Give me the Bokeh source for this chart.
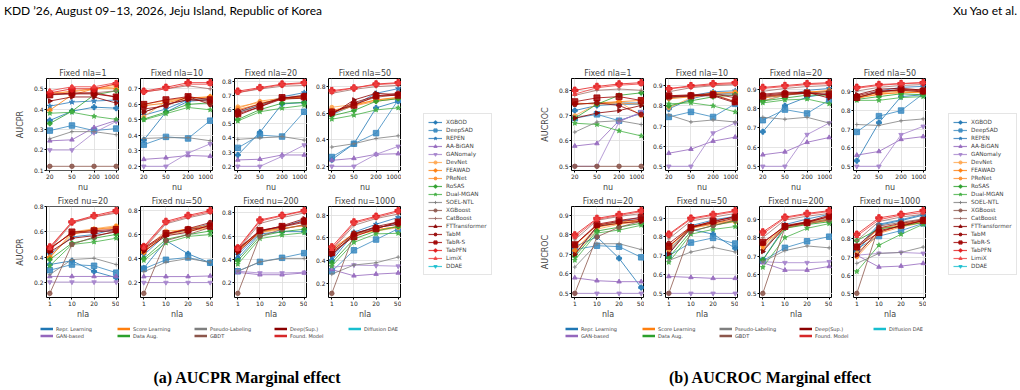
import numpy as np
from bokeh.plotting import figure
from bokeh.layouts import row, column
from bokeh.models import (Div, Legend, LegendItem, FixedTicker, Range1d,
                          PrintfTickFormatter)
from bokeh.embed import file_html
from bokeh.resources import INLINE

# ---------------- data ----------------
METHODS = ["XGBOD", "DeepSAD", "REPEN", "AA-BiGAN", "GANomaly", "DevNet", "FEAWAD",
           "PReNet", "RoSAS", "Dual-MGAN", "SOEL-NTL", "XGBoost", "CatBoost",
           "FTTransformer", "TabM", "TabR-S", "TabPFN", "LimiX", "DDAE"]
NU_LABELS = ["20", "50", "200", "1000"]
NLA_LABELS = ["1", "10", "20", "50"]
NLA_FIXED = ["1", "10", "20", "50"]
NU_FIXED = ["20", "50", "200", "1000"]

# rows follow METHODS order (DDAE has no plotted values)
PR_NLA1 = [[0.345, 0.39, 0.41, 0.405], [0.295, 0.32, 0.295, 0.305], [0.415, 0.435, 0.44, 0.445],
           [0.245, 0.25, 0.31, 0.345], [0.20, 0.20, 0.285, 0.34], [0.47, 0.49, 0.50, 0.52],
           [0.395, 0.47, 0.50, 0.50], [0.48, 0.485, 0.50, 0.51], [0.33, 0.39, 0.47, 0.49],
           [0.38, 0.385, 0.365, 0.35], [0.255, 0.29, 0.29, 0.275], [0.12, 0.12, 0.12, 0.12],
           [0.47, 0.475, 0.48, 0.49], [0.44, 0.46, 0.46, 0.43], [0.475, 0.475, 0.475, 0.46],
           [0.47, 0.48, 0.48, 0.46], [0.48, 0.50, 0.50, 0.525], [0.49, 0.51, 0.51, 0.53]]
PR_NLA10 = [[0.37, 0.55, 0.62, 0.63], [0.34, 0.39, 0.38, 0.495], [0.53, 0.57, 0.63, 0.64],
            [0.245, 0.255, 0.27, 0.265], [0.20, 0.20, 0.285, 0.345], [0.52, 0.62, 0.64, 0.645],
            [0.59, 0.61, 0.64, 0.65], [0.60, 0.625, 0.645, 0.64], [0.505, 0.55, 0.60, 0.61],
            [0.50, 0.54, 0.58, 0.565], [0.38, 0.385, 0.385, 0.365], [0.55, 0.60, 0.63, 0.63],
            [0.68, 0.70, 0.72, 0.70], [0.55, 0.60, 0.63, 0.62], [0.57, 0.59, 0.65, 0.60],
            [0.60, 0.63, 0.65, 0.63], [0.685, 0.71, 0.74, 0.74], [0.68, 0.70, 0.73, 0.73]]
PR_NLA20 = [[0.28, 0.44, 0.64, 0.65], [0.33, 0.42, 0.41, 0.585], [0.58, 0.63, 0.69, 0.72],
            [0.245, 0.25, 0.28, 0.28], [0.20, 0.20, 0.27, 0.35], [0.62, 0.65, 0.67, 0.69],
            [0.60, 0.64, 0.68, 0.69], [0.61, 0.66, 0.68, 0.685], [0.53, 0.60, 0.645, 0.65],
            [0.52, 0.585, 0.61, 0.63], [0.39, 0.40, 0.41, 0.385], [0.58, 0.63, 0.68, 0.70],
            [0.72, 0.745, 0.765, 0.77], [0.56, 0.62, 0.675, 0.68], [0.59, 0.64, 0.68, 0.70],
            [0.57, 0.62, 0.685, 0.69], [0.73, 0.755, 0.78, 0.79], [0.72, 0.75, 0.775, 0.785]]
PR_NLA50 = [[0.25, 0.37, 0.64, 0.69], [0.27, 0.37, 0.45, 0.70], [0.59, 0.66, 0.75, 0.785],
            [0.245, 0.26, 0.29, 0.295], [0.20, 0.20, 0.29, 0.35], [0.645, 0.665, 0.70, 0.715],
            [0.62, 0.66, 0.70, 0.72], [0.60, 0.655, 0.69, 0.71], [0.58, 0.62, 0.69, 0.71],
            [0.555, 0.585, 0.625, 0.64], [0.345, 0.37, 0.41, 0.43], [0.60, 0.67, 0.72, 0.74],
            [0.75, 0.78, 0.80, 0.81], [0.59, 0.70, 0.75, 0.74], [0.60, 0.68, 0.73, 0.75],
            [0.61, 0.66, 0.73, 0.735], [0.77, 0.79, 0.82, 0.83], [0.76, 0.79, 0.815, 0.825]]
PR_NU20 = [[0.34, 0.37, 0.285, 0.235], [0.295, 0.34, 0.33, 0.275], [0.42, 0.56, 0.58, 0.625],
           [0.245, 0.245, 0.245, 0.245], [0.20, 0.20, 0.20, 0.20], [0.39, 0.60, 0.625, 0.65],
           [0.40, 0.58, 0.62, 0.64], [0.47, 0.59, 0.62, 0.63], [0.38, 0.51, 0.55, 0.58],
           [0.33, 0.50, 0.52, 0.55], [0.26, 0.38, 0.39, 0.34], [0.11, 0.50, 0.56, 0.61],
           [0.46, 0.67, 0.72, 0.75], [0.44, 0.55, 0.57, 0.60], [0.47, 0.59, 0.60, 0.61],
           [0.46, 0.60, 0.61, 0.62], [0.48, 0.68, 0.73, 0.77], [0.47, 0.68, 0.72, 0.76]]
PR_NU50 = [[0.32, 0.55, 0.44, 0.365], [0.315, 0.39, 0.41, 0.365], [0.43, 0.60, 0.64, 0.69],
           [0.25, 0.25, 0.25, 0.255], [0.20, 0.20, 0.20, 0.20], [0.47, 0.63, 0.64, 0.66],
           [0.45, 0.61, 0.65, 0.68], [0.46, 0.60, 0.63, 0.655], [0.40, 0.56, 0.60, 0.63],
           [0.385, 0.53, 0.585, 0.60], [0.29, 0.37, 0.40, 0.37], [0.11, 0.55, 0.60, 0.66],
           [0.48, 0.69, 0.74, 0.78], [0.46, 0.59, 0.62, 0.68], [0.48, 0.60, 0.65, 0.70],
           [0.49, 0.61, 0.64, 0.67], [0.50, 0.71, 0.76, 0.80], [0.49, 0.70, 0.75, 0.79]]
PR_NU200 = [[0.41, 0.62, 0.64, 0.64], [0.30, 0.38, 0.415, 0.455], [0.44, 0.63, 0.68, 0.74],
            [0.29, 0.27, 0.27, 0.285], [0.30, 0.285, 0.285, 0.29], [0.47, 0.63, 0.66, 0.70],
            [0.48, 0.64, 0.67, 0.69], [0.49, 0.64, 0.665, 0.695], [0.39, 0.60, 0.64, 0.66],
            [0.36, 0.58, 0.61, 0.63], [0.30, 0.38, 0.41, 0.41], [0.11, 0.60, 0.66, 0.70],
            [0.48, 0.71, 0.76, 0.80], [0.46, 0.64, 0.69, 0.75], [0.48, 0.65, 0.68, 0.72],
            [0.49, 0.65, 0.685, 0.73], [0.50, 0.74, 0.78, 0.82], [0.49, 0.73, 0.775, 0.815]]
PR_NU1000 = [[0.40, 0.64, 0.69, 0.72], [0.305, 0.49, 0.585, 0.68], [0.43, 0.65, 0.72, 0.78],
             [0.32, 0.265, 0.28, 0.29], [0.34, 0.36, 0.355, 0.35], [0.49, 0.63, 0.66, 0.69],
             [0.50, 0.64, 0.67, 0.70], [0.47, 0.62, 0.67, 0.70], [0.38, 0.59, 0.66, 0.70],
             [0.35, 0.56, 0.635, 0.64], [0.28, 0.36, 0.38, 0.43], [0.11, 0.63, 0.68, 0.74],
             [0.49, 0.71, 0.77, 0.81], [0.45, 0.63, 0.70, 0.74], [0.48, 0.64, 0.69, 0.72],
             [0.47, 0.61, 0.68, 0.74], [0.52, 0.74, 0.79, 0.84], [0.50, 0.73, 0.78, 0.83]]

ROC_NLA1 = [[0.72, 0.74, 0.745, 0.745], [0.69, 0.705, 0.68, 0.71], [0.745, 0.75, 0.75, 0.75],
            [0.58, 0.59, 0.68, 0.71], [0.50, 0.50, 0.675, 0.715], [0.70, 0.745, 0.755, 0.70],
            [0.745, 0.75, 0.755, 0.76], [0.75, 0.745, 0.75, 0.745], [0.69, 0.745, 0.78, 0.79],
            [0.67, 0.665, 0.64, 0.62], [0.635, 0.675, 0.68, 0.665], [0.50, 0.50, 0.50, 0.50],
            [0.78, 0.80, 0.805, 0.80], [0.69, 0.71, 0.72, 0.74], [0.745, 0.75, 0.74, 0.705],
            [0.755, 0.77, 0.775, 0.76], [0.80, 0.815, 0.825, 0.83], [0.785, 0.81, 0.82, 0.825]]
ROC_NLA10 = [[0.785, 0.835, 0.86, 0.86], [0.745, 0.77, 0.745, 0.81], [0.84, 0.85, 0.87, 0.875],
             [0.565, 0.585, 0.625, 0.645], [0.50, 0.50, 0.665, 0.715], [0.79, 0.84, 0.86, 0.82],
             [0.835, 0.845, 0.865, 0.865], [0.84, 0.85, 0.86, 0.87], [0.80, 0.825, 0.845, 0.855],
             [0.81, 0.815, 0.80, 0.77], [0.755, 0.72, 0.73, 0.72], [0.84, 0.85, 0.86, 0.85],
             [0.87, 0.89, 0.90, 0.905], [0.845, 0.85, 0.85, 0.815], [0.85, 0.855, 0.86, 0.84],
             [0.85, 0.85, 0.855, 0.82], [0.885, 0.90, 0.91, 0.915], [0.885, 0.895, 0.905, 0.91]]
ROC_NLA20 = [[0.68, 0.815, 0.86, 0.88], [0.74, 0.795, 0.775, 0.845], [0.84, 0.87, 0.895, 0.905],
             [0.56, 0.575, 0.625, 0.65], [0.50, 0.50, 0.665, 0.725], [0.84, 0.87, 0.89, 0.885],
             [0.855, 0.87, 0.885, 0.895], [0.86, 0.875, 0.88, 0.89], [0.84, 0.855, 0.87, 0.87],
             [0.83, 0.845, 0.85, 0.825], [0.755, 0.745, 0.755, 0.725], [0.86, 0.87, 0.88, 0.89],
             [0.89, 0.905, 0.915, 0.92], [0.87, 0.88, 0.885, 0.855], [0.875, 0.885, 0.885, 0.87],
             [0.865, 0.875, 0.88, 0.875], [0.91, 0.92, 0.93, 0.935], [0.905, 0.915, 0.925, 0.93]]
ROC_NLA50 = [[0.53, 0.735, 0.875, 0.885], [0.685, 0.77, 0.80, 0.89], [0.865, 0.905, 0.925, 0.93],
             [0.56, 0.58, 0.645, 0.66], [0.50, 0.50, 0.67, 0.715], [0.87, 0.885, 0.90, 0.895],
             [0.865, 0.89, 0.895, 0.90], [0.875, 0.895, 0.905, 0.905], [0.86, 0.875, 0.89, 0.885],
             [0.855, 0.855, 0.87, 0.875], [0.725, 0.72, 0.745, 0.755], [0.87, 0.90, 0.91, 0.915],
             [0.905, 0.925, 0.935, 0.94], [0.885, 0.915, 0.92, 0.91], [0.88, 0.905, 0.91, 0.90],
             [0.87, 0.90, 0.915, 0.905], [0.925, 0.94, 0.945, 0.95], [0.92, 0.935, 0.945, 0.95]]
ROC_NU20 = [[0.74, 0.79, 0.68, 0.53], [0.725, 0.745, 0.74, 0.685], [0.70, 0.84, 0.87, 0.89],
            [0.58, 0.565, 0.56, 0.56], [0.50, 0.50, 0.50, 0.50], [0.70, 0.83, 0.855, 0.87],
            [0.72, 0.84, 0.86, 0.875], [0.745, 0.85, 0.865, 0.88], [0.69, 0.82, 0.84, 0.86],
            [0.67, 0.81, 0.825, 0.85], [0.635, 0.755, 0.755, 0.725], [0.50, 0.79, 0.84, 0.87],
            [0.775, 0.875, 0.895, 0.91], [0.70, 0.845, 0.86, 0.87], [0.75, 0.85, 0.87, 0.88],
            [0.75, 0.855, 0.875, 0.89], [0.80, 0.885, 0.905, 0.925], [0.79, 0.88, 0.90, 0.92]]
ROC_NU50 = [[0.735, 0.84, 0.815, 0.74], [0.70, 0.77, 0.795, 0.765], [0.71, 0.86, 0.89, 0.91],
            [0.59, 0.585, 0.58, 0.58], [0.50, 0.50, 0.50, 0.50], [0.74, 0.85, 0.865, 0.88],
            [0.75, 0.855, 0.875, 0.89], [0.725, 0.845, 0.87, 0.885], [0.69, 0.83, 0.86, 0.885],
            [0.665, 0.815, 0.84, 0.855], [0.675, 0.72, 0.745, 0.72], [0.50, 0.83, 0.86, 0.89],
            [0.79, 0.885, 0.905, 0.925], [0.71, 0.85, 0.875, 0.90], [0.765, 0.855, 0.88, 0.91],
            [0.75, 0.85, 0.885, 0.905], [0.815, 0.90, 0.92, 0.94], [0.81, 0.895, 0.915, 0.935]]
ROC_NU200 = [[0.68, 0.86, 0.88, 0.90], [0.675, 0.745, 0.78, 0.805], [0.73, 0.87, 0.90, 0.925],
             [0.665, 0.625, 0.625, 0.645], [0.67, 0.665, 0.665, 0.67], [0.75, 0.855, 0.875, 0.89],
             [0.76, 0.86, 0.88, 0.90], [0.735, 0.85, 0.875, 0.895], [0.68, 0.85, 0.87, 0.885],
             [0.64, 0.80, 0.85, 0.875], [0.67, 0.73, 0.755, 0.745], [0.50, 0.855, 0.875, 0.895],
             [0.80, 0.895, 0.915, 0.93], [0.725, 0.86, 0.885, 0.92], [0.77, 0.865, 0.885, 0.91],
             [0.775, 0.86, 0.88, 0.915], [0.83, 0.91, 0.93, 0.945], [0.82, 0.905, 0.925, 0.94]]
ROC_NU1000 = [[0.73, 0.875, 0.90, 0.93], [0.745, 0.815, 0.845, 0.885], [0.75, 0.88, 0.905, 0.935],
              [0.71, 0.645, 0.65, 0.665], [0.71, 0.72, 0.725, 0.72], [0.72, 0.84, 0.87, 0.895],
              [0.75, 0.855, 0.88, 0.90], [0.70, 0.83, 0.865, 0.89], [0.79, 0.855, 0.87, 0.89],
              [0.62, 0.765, 0.825, 0.88], [0.665, 0.72, 0.725, 0.755], [0.50, 0.87, 0.89, 0.91],
              [0.79, 0.895, 0.92, 0.935], [0.71, 0.845, 0.87, 0.90], [0.76, 0.86, 0.885, 0.905],
              [0.755, 0.835, 0.875, 0.90], [0.825, 0.915, 0.935, 0.955], [0.815, 0.905, 0.93, 0.945]]

CATEGORIES = ["Repr. Learning", "GAN-based", "Score Learning", "Data Aug.", "Pseudo-Labeling",
              "GBDT", "Deep(Sup.)", "Found. Model", "Diffusion DAE"]
CAT_COLORS = ["#1f77b4", "#9467bd", "#ff7f0e", "#2ca02c", "#7f7f7f",
              "#8c564b", "#8b0000", "#d62728", "#17becf"]

# method styles: (color, marker, size, angle)
STYLE = {
    "XGBOD": ("#1f77b4", "plus", 5, 0), "DeepSAD": ("#3a8ac1", "square", 5.5, 0),
    "REPEN": ("#2b7bba", "star", 5.5, 0), "AA-BiGAN": ("#9467bd", "triangle", 4.5, 0),
    "GANomaly": ("#a583cc", "inverted_triangle", 4.5, 0), "DevNet": ("#ffa64d", "circle", 4, 0),
    "FEAWAD": ("#ff7f0e", "plus", 4.5, 0), "PReNet": ("#ff8f2e", "hex", 4, 0),
    "RoSAS": ("#2ca02c", "plus", 4.5, 0), "Dual-MGAN": ("#45b045", "star", 5, 0),
    "SOEL-NTL": ("#7f7f7f", "cross", 4, 0), "XGBoost": ("#8c564b", "circle", 4.5, 0),
    "CatBoost": ("#a0706a", "cross", 4, 0), "FTTransformer": ("#8b0000", "triangle", 4.5, -1.5708),
    "TabM": ("#990a0a", "hex", 5, 0), "TabR-S": ("#a00000", "square", 6, 0),
    "TabPFN": ("#e31a1c", "plus", 6.5, 0), "LimiX": ("#ee4040", "triangle", 4.5, 0),
    "DDAE": ("#17becf", "inverted_triangle", 5, 0),
}

FONT = "DejaVu Sans"
FW, FH = 73, 94
NAN = [float("nan")]


def make_sub(series, xlabels, title, xlabel, ylabel, step, top_border, left_border):
    flat = [v for s in series for v in s]
    lo, hi = min(flat), max(flat)
    pad = 0.05 * (hi - lo)
    y0, y1 = lo - pad, hi + pad
    n = len(xlabels)
    xs = list(range(n))
    p = figure(width=left_border + FW, height=top_border + FH + 22,
               x_range=Range1d(-0.15, n - 1 + 0.15), y_range=Range1d(y0, y1),
               output_backend="svg", toolbar_location=None, title=title,
               min_border_left=left_border, min_border_right=0,
               min_border_top=top_border, min_border_bottom=22, margin=0)
    p.title.text_font = FONT
    p.title.text_font_size = "8px"
    p.title.text_font_style = "normal"
    p.title.align = "center"
    p.title.standoff = 1
    for i, m in enumerate(METHODS[:-1]):
        c, mk, sz, ang = STYLE[m]
        p.line(xs, series[i], line_color=c, line_width=1, line_alpha=0.8)
        p.scatter(xs, series[i], marker=mk, size=sz, angle=ang, fill_color=c,
                  line_color=c, fill_alpha=0.85, line_alpha=0.85, line_width=1)
    ticks = [round(float(t), 3) for t in
             np.arange(np.ceil(y0 / step - 1e-9) * step, y1 + 1e-9, step)]
    p.yaxis.ticker = FixedTicker(ticks=ticks)
    p.ygrid.ticker = FixedTicker(ticks=ticks)
    p.yaxis.formatter = PrintfTickFormatter(format="%.1f")
    p.xaxis.ticker = FixedTicker(ticks=xs)
    p.xgrid.ticker = FixedTicker(ticks=xs)
    p.xaxis.major_label_overrides = {i: lab for i, lab in enumerate(xlabels)}
    p.xaxis.axis_label = xlabel
    if ylabel:
        p.yaxis.axis_label = ylabel
    for ax in (p.xaxis[0], p.yaxis[0]):
        ax.axis_line_color = None
        ax.major_tick_out = 2
        ax.major_tick_in = 0
        ax.minor_tick_line_color = None
        ax.major_tick_line_color = "black"
        ax.major_label_standoff = 1
        ax.major_label_text_font = FONT
        ax.major_label_text_font_size = "6px"
        ax.major_label_text_color = "#222222"
        ax.axis_label_text_font = FONT
        ax.axis_label_text_font_size = "8px"
        ax.axis_label_text_font_style = "normal"
    p.xaxis.axis_label_standoff = 1
    p.yaxis.axis_label_standoff = 6
    p.grid.grid_line_color = "#dddddd"
    p.grid.grid_line_width = 0.8
    p.outline_line_color = "black"
    p.outline_line_width = 1
    return p


def method_legend_fig(width, x_off):
    p = figure(width=width, height=261, x_range=Range1d(0, 1), y_range=Range1d(0, 1),
               x_axis_type=None, y_axis_type=None, toolbar_location=None,
               output_backend="svg", min_border=0, outline_line_color=None, margin=0)
    items = []
    for m in METHODS:
        c, mk, sz, ang = STYLE[m]
        r1 = p.line(x=NAN, y=NAN, line_color=c, line_width=1.2, line_alpha=0.8)
        r2 = p.scatter(x=NAN, y=NAN, marker=mk, size=sz, angle=ang, fill_color=c,
                       line_color=c, fill_alpha=0.85, line_alpha=0.85)
        items.append(LegendItem(label=m, renderers=[r1, r2]))
    leg = Legend(items=items, location=(x_off, 46), glyph_width=14, glyph_height=8,
                 label_height=8, spacing=0, padding=4, margin=0, label_standoff=4,
                 label_text_font=FONT, label_text_font_size="5.7px",
                 border_line_color="#cccccc", border_line_width=0.8,
                 background_fill_color="white")
    p.add_layout(leg)
    return p


def cat_legend_fig():
    p = figure(width=401, height=24, x_range=Range1d(0, 1), y_range=Range1d(0, 1),
               x_axis_type=None, y_axis_type=None, toolbar_location=None,
               output_backend="svg", min_border=0, outline_line_color=None, margin=0)
    groups = [[0, 1], [2, 3], [4, 5], [6, 7], [8]]
    xpos = [40, 117, 194, 274, 348]
    for g, xp in zip(groups, xpos):
        items = []
        for k in g:
            r = p.line(x=NAN, y=NAN, line_color=CAT_COLORS[k], line_width=2.5)
            items.append(LegendItem(label=CATEGORIES[k], renderers=[r]))
        yloc = 6 if len(g) == 2 else 13
        leg = Legend(items=items, location=(xp, yloc), glyph_width=13, glyph_height=7,
                     label_height=7, spacing=0, padding=0, margin=0, label_standoff=3,
                     label_text_font=FONT, label_text_font_size="5px",
                     border_line_color=None, background_fill_alpha=0)
        p.add_layout(leg)
    return p


def panel(top_data, bot_data, ylabel, top_steps, bot_steps):
    tops, bots = [], []
    for j in range(4):
        lb = 46 if j == 0 else 21
        tops.append(make_sub(top_data[j], NU_LABELS, f"Fixed nla={NLA_FIXED[j]}", "nu",
                             ylabel if j == 0 else None, top_steps[j], 18, lb))
        bots.append(make_sub(bot_data[j], NLA_LABELS, f"Fixed nu={NU_FIXED[j]}", "nla",
                             ylabel if j == 0 else None, bot_steps[j], 11, lb))
    return column(row(*tops, spacing=0), row(*bots, spacing=0), cat_legend_fig(),
                  spacing=0)


panel_a = panel([PR_NLA1, PR_NLA10, PR_NLA20, PR_NLA50],
                [PR_NU20, PR_NU50, PR_NU200, PR_NU1000], "AUCPR",
                [0.1, 0.1, 0.1, 0.2], [0.2, 0.2, 0.2, 0.2])
panel_b = panel([ROC_NLA1, ROC_NLA10, ROC_NLA20, ROC_NLA50],
                [ROC_NU20, ROC_NU50, ROC_NU200, ROC_NU1000], "AUCROC",
                [0.1] * 4, [0.1] * 4)

leg_a = method_legend_fig(124, 22)
leg_b = method_legend_fig(94, 22)

header = Div(width=1020, height=60, margin=0, text=(
    '<div style="position:relative;width:1020px;height:60px;font-family:Lato;'
    'font-size:12px;color:#000;">'
    '<div style="position:absolute;left:4px;top:2px;white-space:nowrap;">'
    'KDD \u201926, August 09\u201313, 2026, Jeju Island, Republic of Korea</div>'
    '<div style="position:absolute;right:3px;top:2px;white-space:nowrap;">Xu Yao et al.</div>'
    '</div>'))

caption = Div(width=1020, height=45, margin=0, text=(
    '<div style="position:relative;width:1020px;height:45px;font-family:\'Liberation Serif\';'
    'font-size:16px;font-weight:bold;color:#000;">'
    '<div style="position:absolute;left:0px;width:494px;top:22px;text-align:center;">'
    '(a) AUCPR Marginal effect</div>'
    '<div style="position:absolute;left:520px;width:500px;top:22px;text-align:center;">'
    '(b) AUCROC Marginal effect</div>'
    '</div>'))

layout = column(header, row(panel_a, leg_a, panel_b, leg_b, spacing=0), caption, spacing=0)

open("out.html", "w").write(file_html(layout, INLINE))
